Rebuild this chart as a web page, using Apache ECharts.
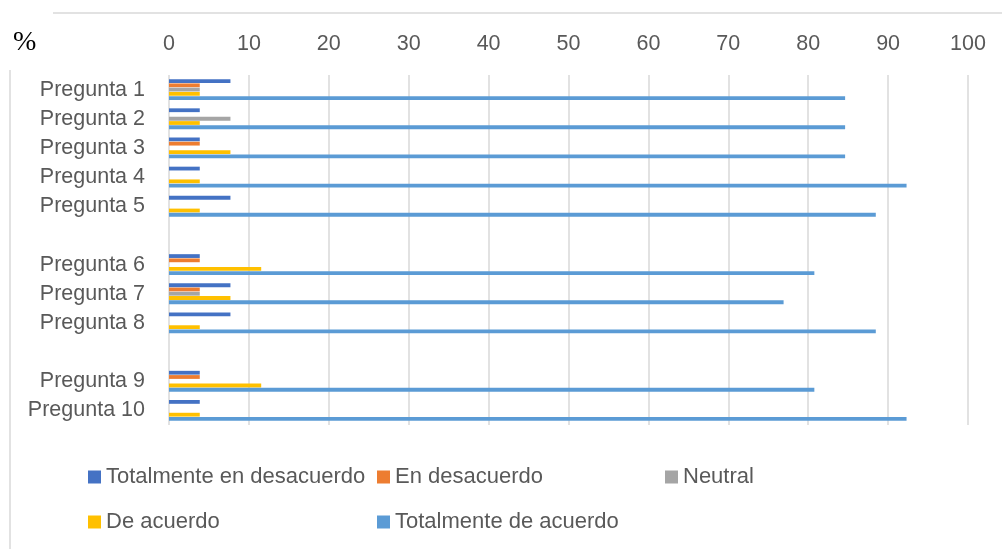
<!DOCTYPE html>
<html>
<head>
<meta charset="utf-8">
<script src="https://cdn.jsdelivr.net/npm/echarts@6/dist/echarts.min.js"></script>
<style>html,body{margin:0;padding:0;background:#fff}#c{width:1002px;height:549px}</style>
</head>
<body>
<div id="c"></div>
<script>
const categories = ['Pregunta 1','Pregunta 2','Pregunta 3','Pregunta 4','Pregunta 5','','Pregunta 6','Pregunta 7','Pregunta 8','','Pregunta 9','Pregunta 10'];
const seriesNames = ['Totalmente en desacuerdo','En desacuerdo','Neutral','De acuerdo','Totalmente de acuerdo'];
const totalmenteEnDesacuerdo = [7.69, 3.85, 3.85, 3.85, 7.69, null, 3.85, 7.69, 7.69, null, 3.85, 3.85];
const enDesacuerdo           = [3.85, 0,    3.85, 0,    0,    null, 3.85, 3.85, 0,    null, 3.85, 0];
const neutral                = [3.85, 7.69, 0,    0,    0,    null, 0,    3.85, 0,    null, 0,    0];
const deAcuerdo              = [3.85, 3.85, 7.69, 3.85, 3.85, null, 11.54, 7.69, 3.85, null, 11.54, 3.85];
const totalmenteDeAcuerdo    = [84.62, 84.62, 84.62, 92.31, 88.46, null, 80.77, 76.92, 88.46, null, 80.77, 92.31];
const xTicks = [0,10,20,30,40,50,60,70,80,90,100];
const colors = ['#4472C4','#ED7D31','#A5A5A5','#FFC000','#5B9BD5'];
const values = [totalmenteEnDesacuerdo, enDesacuerdo, neutral, deAcuerdo, totalmenteDeAcuerdo];

const font = 'Liberation Sans';
const fs = 21.5;
const legendPos = [[88,466],[377,466],[665,466],[88,511],[377,511]];

const chart = echarts.init(document.getElementById('c'));
chart.setOption({
  animation:false,
  textStyle:{fontFamily:font},
  grid:{left:169,right:34,top:75,bottom:124,containLabel:false},
  xAxis:{type:'value',position:'top',min:xTicks[0],max:xTicks[xTicks.length-1],interval:10,
    axisLine:{show:false},axisTick:{show:false},
    axisLabel:{margin:20,fontSize:fs,color:'#595959',fontFamily:font},
    splitLine:{lineStyle:{color:'#D9D9D9',width:1.5}}},
  yAxis:{type:'category',inverse:true,data:categories,
    axisLine:{show:false},axisTick:{show:false},
    axisLabel:{margin:24,fontSize:fs,color:'#595959',fontFamily:font}},
  legend: seriesNames.map((n,i)=>({data:[n],left:legendPos[i][0],top:legendPos[i][1],padding:0,
    icon:'rect',itemWidth:13,itemHeight:13,itemGap:6,
    textStyle:{fontSize:22,color:'#595959',fontFamily:font}})),
  graphic:[
    {type:'text',left:13,top:29,style:{text:'%',font:'28px "Liberation Serif"',fill:'#000'}},
    {type:'line',shape:{x1:53,y1:13,x2:1002,y2:13},style:{stroke:'#D9D9D9',lineWidth:1.5}},
    {type:'line',shape:{x1:10,y1:70,x2:10,y2:549},style:{stroke:'#D9D9D9',lineWidth:1.5}}
  ],
  series: seriesNames.map((n,i)=>({name:n,type:'bar',data:values[i],barWidth:3.8,barGap:'12%',
    itemStyle:{color:colors[i]}}))
});
</script>
</body>
</html>
